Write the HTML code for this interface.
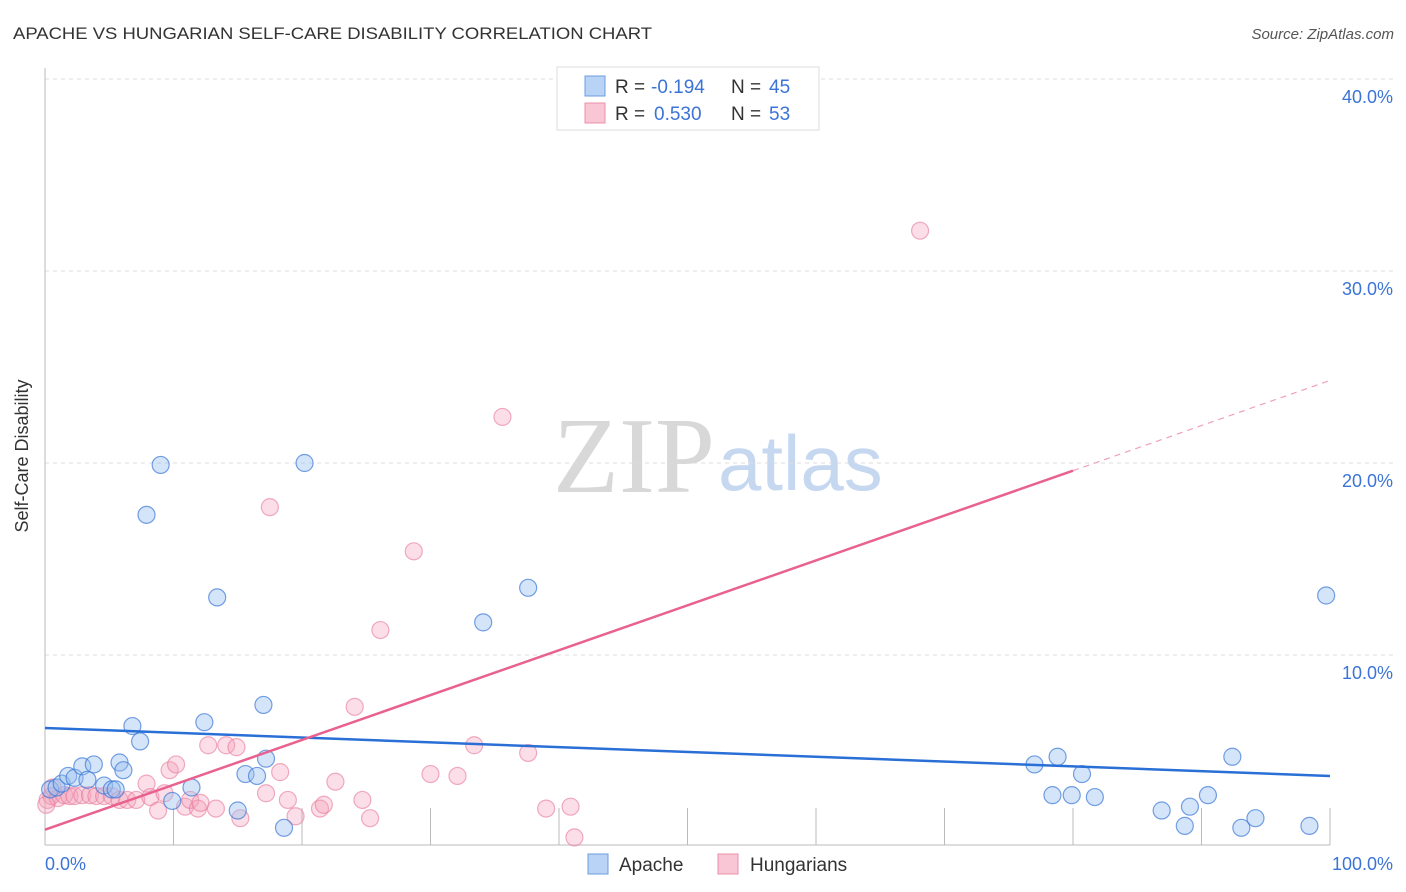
<!DOCTYPE html>
<html><head><meta charset="utf-8"><style>
body{margin:0;background:#fff;font-family:"Liberation Sans",sans-serif}
svg{display:block}
</style></head><body>
<svg width="1406" height="892" xmlns="http://www.w3.org/2000/svg" id="chart">
<text x="13" y="39" font-size="17" fill="#333" textLength="639" lengthAdjust="spacingAndGlyphs">APACHE VS HUNGARIAN SELF-CARE DISABILITY CORRELATION CHART</text>
<text x="1394" y="39" font-size="15" fill="#555" text-anchor="end" font-style="italic">Source: ZipAtlas.com</text>
<g>
<text x="553" y="492" font-size="108" font-family="Liberation Serif,serif" fill="#d8d8d8">ZIP</text>
<text x="718" y="490" font-size="78" fill="#c5d8f0">atlas</text>
</g>
<g id="grid"></g>
<line x1="45" y1="68" x2="45" y2="845" stroke="#bbb"/>
<line x1="45" y1="845" x2="1330" y2="845" stroke="#bbb"/>
<text x="28" y="456" font-size="18" fill="#333" text-anchor="middle" transform="rotate(-90 28 456)">Self-Care Disability</text>
<text x="45" y="870" font-size="18" fill="#3b74d6">0.0%</text>
<text x="1393" y="870" font-size="18" fill="#3b74d6" text-anchor="end">100.0%</text>
<g id="marks"></g>
<g>
<rect x="557" y="67" width="262" height="63" fill="#fff" stroke="#ddd"/>
<rect x="585" y="76" width="20" height="20" fill="#b8d3f5" stroke="#6d9de0"/>
<rect x="585" y="103" width="20" height="20" fill="#f8c6d4" stroke="#ec8fab"/>
<text x="615" y="93" font-size="19" fill="#333">R =</text>
<text x="651" y="93" font-size="19" fill="#3b74d6">-0.194</text>
<text x="731" y="93" font-size="19" fill="#333">N =</text>
<text x="769" y="93" font-size="19" fill="#3b74d6">45</text>
<text x="615" y="120" font-size="19" fill="#333">R =</text>
<text x="654" y="120" font-size="19" fill="#3b74d6">0.530</text>
<text x="731" y="120" font-size="19" fill="#333">N =</text>
<text x="769" y="120" font-size="19" fill="#3b74d6">53</text>
</g>
<g>
<rect x="588" y="854" width="20" height="20" fill="#b8d3f5" stroke="#6d9de0"/>
<text x="619" y="871" font-size="19" fill="#333">Apache</text>
<rect x="718" y="854" width="20" height="20" fill="#f8c6d4" stroke="#ec8fab"/>
<text x="750" y="871" font-size="19" fill="#333">Hungarians</text>
</g>
</svg>
<script>
const yTicks=[10,20,30,40];
const yTickLabels=["10.0%","20.0%","30.0%","40.0%"];
const xTicks=[10,20,30,40,50,60,70,80,90,100];
const apacheX=[0.4,0.9,1.3,1.8,2.3,2.9,3.3,3.8,4.6,5.2,5.8,6.1,6.8,7.4,7.9,9.0,9.9,11.4,12.4,13.4,15.0,15.6,16.5,17.0,17.2,18.6,20.2,34.1,37.6,77.0,78.4,78.8,79.9,80.7,81.7,86.9,88.7,89.1,90.5,92.4,93.1,94.2,98.4,99.7,5.5];
const apacheY=[3.0,3.1,3.3,3.7,3.6,4.2,3.5,4.3,3.2,3.0,4.4,4.0,6.3,5.5,17.3,19.9,2.4,3.1,6.5,13.0,1.9,3.8,3.7,7.4,4.6,1.0,20.0,11.7,13.5,4.3,2.7,4.7,2.7,3.8,2.6,1.9,1.1,2.1,2.7,4.7,1.0,1.5,1.1,13.1,3.0];
const hungX=[0.2,0.5,1.0,1.5,1.9,2.3,2.9,3.5,4.0,4.6,5.2,5.8,6.4,7.1,7.9,8.2,8.8,9.3,9.7,10.2,10.9,11.3,11.9,12.1,12.7,13.3,14.1,14.9,15.2,17.2,17.5,18.3,18.9,19.5,21.4,21.7,22.6,24.1,24.7,25.3,26.1,28.7,30.0,32.1,33.4,35.6,37.6,39.0,40.9,41.2,68.1,0.1,0.6];
const hungY=[2.45,2.65,2.55,2.7,2.65,2.65,2.7,2.7,2.65,2.65,2.65,2.45,2.45,2.45,3.3,2.6,1.9,2.8,4.0,4.3,2.1,2.45,2.0,2.3,5.3,2.0,5.3,5.2,1.5,2.8,17.7,3.9,2.45,1.6,2.0,2.2,3.4,7.3,2.45,1.5,11.3,15.4,3.8,3.7,5.3,22.4,4.9,2.0,2.1,0.5,32.1,2.2,3.1];
const apacheLine=[[0,6.2],[100,3.7]];
const hungLine=[[0,0.9],[80,19.6]];
const hungDash=[[80,19.6],[100,24.3]];

const X=v=>45+v*12.85, Y=v=>847-v*19.2;
const NS="http://www.w3.org/2000/svg";
function mk(tag,attrs,parent){const e=document.createElementNS(NS,tag);for(const k in attrs)e.setAttribute(k,attrs[k]);parent.appendChild(e);return e;}
const grid=document.getElementById('grid'), marks=document.getElementById('marks');
yTicks.forEach((t,i)=>{
  const l=mk('line',{x1:45,x2:1395,y1:Y(t),y2:Y(t),stroke:'#ddd','stroke-dasharray':'4 4'},grid);
  
  
  const tx=mk('text',{x:1393,y:Y(t)+24,'font-size':18,fill:'#3b74d6','text-anchor':'end'},grid);
  tx.textContent=yTickLabels[i];
  
  
});
xTicks.forEach(t=>{
  const l=mk('line',{x1:X(t),x2:X(t),y1:808,y2:845,stroke:'#bbb'},grid);
  
  
});
hungX.forEach((x,i)=>{
  const c=mk('circle',{cx:X(x),cy:Y(hungY[i]),r:8.5,fill:'rgba(244,160,185,0.35)',stroke:'rgba(232,120,155,0.6)','stroke-width':1.2},marks);
  
  
});
apacheX.forEach((x,i)=>{
  const c=mk('circle',{cx:X(x),cy:Y(apacheY[i]),r:8.5,fill:'rgba(150,190,240,0.4)',stroke:'rgba(60,120,215,0.7)','stroke-width':1.2},marks);
  
  
});
const bl=mk('line',{x1:X(apacheLine[0][0]),y1:Y(apacheLine[0][1]),x2:X(apacheLine[1][0]),y2:Y(apacheLine[1][1]),stroke:'#2a6fd6','stroke-width':2.5},marks);


const pl=mk('line',{x1:X(hungLine[0][0]),y1:Y(hungLine[0][1]),x2:X(hungLine[1][0]),y2:Y(hungLine[1][1]),stroke:'#e8618f','stroke-width':2.5},marks);


const pd=mk('line',{x1:X(hungDash[0][0]),y1:Y(hungDash[0][1]),x2:X(hungDash[1][0]),y2:Y(hungDash[1][1]),stroke:'#f0a0b8','stroke-width':1.2,'stroke-dasharray':'6 5'},marks);


</script>
</body></html>
